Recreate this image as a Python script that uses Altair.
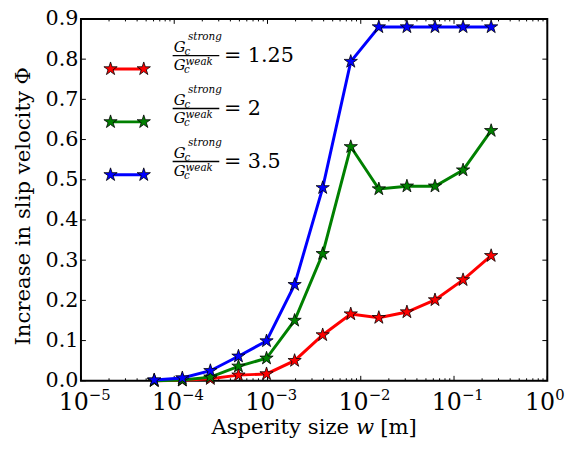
import altair as alt
import pandas as pd

# ---------------- data ----------------
w_m = [6.104e-5, 1.221e-4, 2.441e-4, 4.883e-4, 9.766e-4, 1.953e-3, 3.906e-3,
       7.813e-3, 1.5625e-2, 3.125e-2, 6.25e-2, 0.125, 0.25]
ratio_labels = ["1.25", "2", "3.5"]
series_colors = ["#ff0000", "#008000", "#0000ff"]
phi_r125 = [0.000, 0.001, 0.005, 0.014, 0.017, 0.050, 0.114, 0.166, 0.157, 0.171, 0.201, 0.251, 0.311]
phi_r2 = [0.000, 0.002, 0.009, 0.036, 0.056, 0.150, 0.316, 0.582, 0.477, 0.484, 0.484, 0.524, 0.622]
phi_r35 = [0.002, 0.007, 0.025, 0.061, 0.099, 0.239, 0.480, 0.794, 0.880, 0.880, 0.880, 0.880, 0.880]
y_ticks = [0.0, 0.1, 0.2, 0.3, 0.4, 0.5, 0.6, 0.7, 0.8, 0.9]
x_major = [1e-5, 1e-4, 1e-3, 1e-2, 1e-1, 1.0]
x_exponents = ["\u22125", "\u22124", "\u22123", "\u22122", "\u22121", "0"]
x_minor = [m * d for d in [1e-5, 1e-4, 1e-3, 1e-2, 1e-1] for m in range(2, 10)]

x_title_parts = ["Asperity size", "w", "[m]"]
y_title = "Increase in slip velocity \u03a6"

# ---------------- layout ----------------
W, H = 473, 367
SERIF = "DejaVu Serif"
STAR = ("M0,-1L0.2245,-0.309L0.951,-0.309L0.3633,0.118L0.588,0.809L0,0.382"
        "L-0.588,0.809L-0.3633,0.118L-0.951,-0.309L-0.2245,-0.309Z")
STAR_SIZE = 200

xscale = alt.Scale(type="log", domain=[1e-5, 1.0], nice=False)
yscale = alt.Scale(domain=[0, 0.9], nice=False, zero=False)
yaxis = alt.Axis(values=y_ticks, format=".1f", ticks=False, domain=False, grid=False,
                 labelFont=SERIF, labelFontSize=21, labelPadding=3, labelColor="black",
                 title=None)

df = pd.DataFrame({
    "w": w_m * 3,
    "phi": phi_r125 + phi_r2 + phi_r35,
    "ratio": sum([[lab] * len(w_m) for lab in ratio_labels], []),
})

layers = []

# inward tick marks on all four sides
ydf = pd.DataFrame({"v": y_ticks})
xdf = pd.DataFrame({"v": x_major, "exp": x_exponents})
xmdf = pd.DataFrame({"v": x_minor})
Y = alt.Y("v:Q", scale=yscale, axis=yaxis)
X = alt.X("v:Q", scale=xscale, axis=None)
layers.append(alt.Chart(ydf).mark_rule(color="black", strokeWidth=1).encode(
    y=Y, x=alt.value(0), x2=alt.value(5)))
layers.append(alt.Chart(ydf).mark_rule(color="black", strokeWidth=1).encode(
    y=Y, x=alt.value(W), x2=alt.value(W - 5)))
layers.append(alt.Chart(xdf).mark_rule(color="black", strokeWidth=1).encode(
    x=X, y=alt.value(H), y2=alt.value(H - 5)))
layers.append(alt.Chart(xdf).mark_rule(color="black", strokeWidth=1).encode(
    x=X, y=alt.value(0), y2=alt.value(5)))
layers.append(alt.Chart(xmdf).mark_rule(color="black", strokeWidth=1).encode(
    x=X, y=alt.value(H), y2=alt.value(H - 2.5)))
layers.append(alt.Chart(xmdf).mark_rule(color="black", strokeWidth=1).encode(
    x=X, y=alt.value(0), y2=alt.value(2.5)))

# x tick labels 10^n
layers.append(alt.Chart(xdf).mark_text(align="right", baseline="alphabetic", dx=8,
                                       font=SERIF, fontSize=24, color="black").encode(
    x=X, y=alt.value(397), text=alt.value("10")))
layers.append(alt.Chart(xdf).mark_text(align="left", baseline="alphabetic", dx=8,
                                       font=SERIF, fontSize=15, color="black").encode(
    x=X, y=alt.value(386), text="exp:N"))

# series (line + star markers, red first, blue on top)
for lab, col in zip(ratio_labels, series_colors):
    base = alt.Chart(df).transform_filter(alt.datum.ratio == lab)
    layers.append(base.mark_line(color=col, strokeWidth=3).encode(
        x=alt.X("w:Q", scale=xscale, axis=None),
        y=alt.Y("phi:Q", scale=yscale, axis=yaxis)))
    layers.append(base.mark_point(shape=STAR, size=STAR_SIZE, filled=True, fill=col,
                                  stroke="black", strokeWidth=0.8, opacity=1).encode(
        x=alt.X("w:Q", scale=xscale, axis=None),
        y=alt.Y("phi:Q", scale=yscale, axis=yaxis)))

# legend (upper left, inside the plot)
for i, (lab, col) in enumerate(zip(ratio_labels, series_colors)):
    dy = 53.7 * i
    one = alt.Chart(pd.DataFrame({"label": [lab]}))
    layers.append(one.mark_rule(color=col, strokeWidth=3).encode(
        x=alt.value(30), x2=alt.value(63.7), y=alt.value(50.7 + dy)))
    for sx in (30, 63.7):
        layers.append(one.mark_point(shape=STAR, size=STAR_SIZE, filled=True, fill=col,
                                     stroke="black", strokeWidth=0.8, opacity=1).encode(
            x=alt.value(sx), y=alt.value(50.7 + dy)))
    layers.append(one.mark_rule(color="black", strokeWidth=1.5).encode(
        x=alt.value(93), x2=alt.value(140.3), y=alt.value(37.2 + dy)))
    pieces = [
        ("G", 94.0, 33.7, 15),
        ("c", 105.0, 36.5, 10.5),
        ("strong", 108.5, 21.5, 10.5),
        ("G", 94.0, 51.5, 15),
        ("c", 104.5, 54.5, 10.5),
        ("weak", 106.0, 47.0, 10.5),
    ]
    for txt, px, py, fs in pieces:
        layers.append(one.mark_text(align="left", baseline="alphabetic", font=SERIF,
                                    fontStyle="italic", fontSize=fs, color="black").encode(
            x=alt.value(px), y=alt.value(py + dy), text=alt.value(txt)))
    layers.append(one.mark_text(align="left", baseline="alphabetic", font=SERIF,
                                fontSize=21, color="black").encode(
        x=alt.value(145), y=alt.value(44 + dy), text=alt.value("= " + lab)))

# axis titles
one = alt.Chart(pd.DataFrame({"t": [0]}))
layers.append(one.mark_text(align="right", baseline="alphabetic", font=SERIF,
                            fontSize=21.5, color="black").encode(
    x=alt.value(272), y=alt.value(421), text=alt.value(x_title_parts[0])))
layers.append(one.mark_text(align="left", baseline="alphabetic", font=SERIF,
                            fontStyle="italic", fontSize=21.5, color="black").encode(
    x=alt.value(279), y=alt.value(421), text=alt.value(x_title_parts[1])))
layers.append(one.mark_text(align="left", baseline="alphabetic", font=SERIF,
                            fontSize=21.5, color="black").encode(
    x=alt.value(303.5), y=alt.value(421), text=alt.value(x_title_parts[2])))
layers.append(one.mark_text(align="center", baseline="alphabetic", font=SERIF,
                            fontSize=21.5, color="black", angle=270).encode(
    x=alt.value(-52), y=alt.value(190), text=alt.value(y_title)))

chart = alt.layer(*layers).properties(
    width=W, height=H,
    autosize=alt.AutoSizeParams(type="none"),
    padding={"left": 74, "top": 8, "right": 21, "bottom": 59},
    background="white",
).configure_view(stroke="black", strokeWidth=2)

chart.save("out.html", embed_options={"renderer": "svg", "actions": False})
